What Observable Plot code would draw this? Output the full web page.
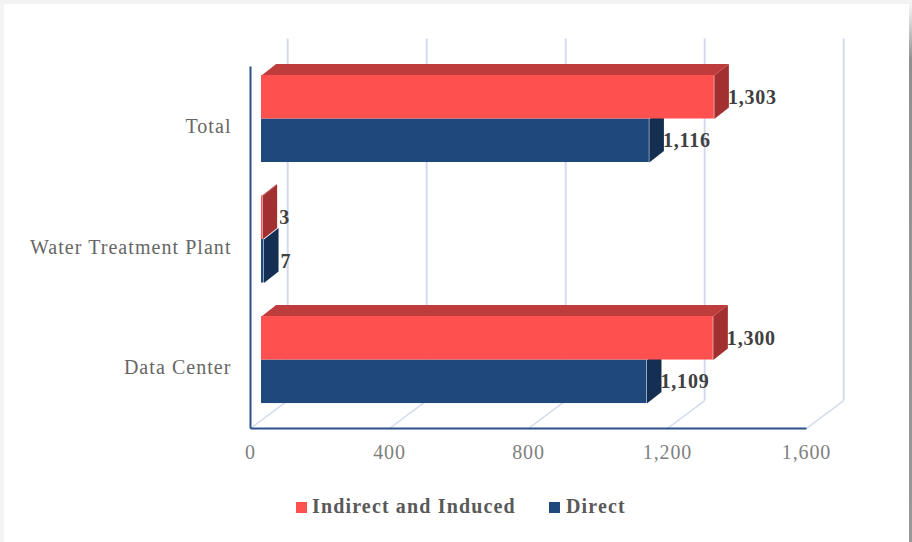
<!DOCTYPE html>
<html>
<head>
<meta charset="utf-8">
<script src="https://cdn.jsdelivr.net/npm/d3@7"></script>
<script src="https://cdn.jsdelivr.net/npm/@observablehq/plot@0.6"></script>
<style>
  html, body { margin: 0; padding: 0; background: #fff; }
  #frame { position: relative; width: 912px; height: 542px; overflow: hidden; background: #fff; }
  #edge { position: absolute; left: 0; top: 0; right: 0; bottom: 0; box-sizing: border-box;
          border-top: 4px solid #f2f2f2; border-left: 4px solid #f4f4f4; pointer-events: none; }
  #edge-right { position: absolute; left: 909px; top: 4px; width: 3px; height: 538px;
          background: linear-gradient(to bottom, #f2f2f2 0, #e8e8e8 8px, #909090 56px, #999 100%); }
  #chart { position: absolute; left: 0; top: 0; }
  #chart g[aria-label="y-axis tick label"] text { letter-spacing: 1.05px; }
  #chart g[aria-label="x-axis tick label"] text { letter-spacing: 0.9px; }
  #chart g[aria-label="text"] text { letter-spacing: 0.8px; }
  .legend-item { position: absolute; top: 494px; font: bold 20px "Liberation Serif", serif;
                 letter-spacing: 1.15px; color: #595959; line-height: 24px; white-space: nowrap; }
  .legend-item i { position: absolute; top: 8px; width: 11px; height: 11px; display: block; }
  .legend-item span { display: block; }
</style>
</head>
<body>
<div id="frame">
  <div id="edge"></div>
  <div id="edge-right"></div>
  <div id="chart"></div>
  <div id="legend"></div>
</div>
<script>
// Data (rows run bottom to top)
const categories = ["Data Center", "Water Treatment Plant", "Total"];
const indirect = [1300, 3, 1303];
const direct = [1109, 7, 1116];
const xTicks = [0, 400, 800, 1200, 1600];

// Colours
const redFront = "#ff5050", redTop = "#bf3c3c", redSide = "#a33030";
const blueFront = "#1f497d", blueSide = "#152f52";
const gridColor = "#d3daee", axisColor = "#2a5289";

// 3-D projection, expressed in scale units
const wallX = 107, wallY = 0.232;       // depth of the chart box
const barInsetX = 31.7;                 // where the bars' front plane starts
const barDepthX = 42, barDepthY = 0.0954;
const barHeight = 0.361;
const yFloor = -0.568, yTop = 2.668;
const comma = d3.format(",");

const series = (values, sign) => values.map((v, i) => ({
  category: categories[i], value: v, i,
  x1: barInsetX, x2: barInsetX + v,
  y1: sign > 0 ? i : i - barHeight,
  y2: sign > 0 ? i + barHeight : i
}));
const red = series(indirect, 1);
const blue = series(direct, -1);

const topFace = rows => rows.flatMap(r => [
  {id: r.i, x: r.x1, y: r.y2},
  {id: r.i, x: r.x1 + barDepthX, y: r.y2 + barDepthY},
  {id: r.i, x: r.x2 + barDepthX, y: r.y2 + barDepthY},
  {id: r.i, x: r.x2, y: r.y2}
]);
const sideFace = rows => rows.flatMap(r => [
  {id: r.i, x: r.x2, y: r.y1},
  {id: r.i, x: r.x2 + barDepthX, y: r.y1 + barDepthY},
  {id: r.i, x: r.x2 + barDepthX, y: r.y2 + barDepthY},
  {id: r.i, x: r.x2, y: r.y2}
]);
const face = (pts, fill) => Plot.line(pts, {x: "x", y: "y", z: "id", fill, stroke: "none"});
const labelMark = (rows, dx) => Plot.text(rows, {
  x: r => r.x2 + barDepthX, y: r => (r.y1 + r.y2) / 2,
  text: r => comma(r.value),
  textAnchor: "start", fontWeight: "bold", fill: "#404040", fontSize: 20, dx
});
const isSmall = r => r.value < 100;

const plot = Plot.plot({
  width: 912, height: 470,
  marginLeft: 250, marginRight: 106, marginTop: 38, marginBottom: 42,
  style: {background: "transparent", fontFamily: "'Liberation Serif', serif", fontSize: "20px", overflow: "visible"},
  x: {domain: [0, 1600]},
  y: {domain: [yFloor, yTop]},
  marks: [
    // Back wall and floor grid
    Plot.link(xTicks, {x1: d => d + wallX, x2: d => d + wallX, y1: yFloor + wallY, y2: yTop, stroke: gridColor, strokeWidth: 2}),
    Plot.link(xTicks, {x1: d => d, x2: d => d + wallX, y1: yFloor, y2: yFloor + wallY, stroke: gridColor, strokeWidth: 1.5}),
    // Axis lines
    Plot.link([0], {x1: 0, x2: 0, y1: yFloor, y2: yTop - wallY, stroke: axisColor, strokeWidth: 2}),
    Plot.link([0], {x1: 0, x2: 1600, y1: yFloor, y2: yFloor, stroke: axisColor, strokeWidth: 1.8}),
    // Bars
    face(topFace(red), redTop),
    face(sideFace(blue), blueSide),
    face(sideFace(red), redSide),
    Plot.rect(blue, {x1: "x1", x2: "x2", y1: "y1", y2: "y2", fill: blueFront}),
    Plot.rect(red, {x1: "x1", x2: "x2", y1: "y1", y2: "y2", fill: redFront}),
    labelMark(red.filter(r => !isSmall(r)), -1),
    labelMark(blue.filter(r => !isSmall(r)), -1),
    labelMark(red.filter(isSmall), 2),
    labelMark(blue.filter(isSmall), 2),
    // Axes
    Plot.axisX({ticks: xTicks, tickSize: 0, tickPadding: 16, tickFormat: comma, label: null, fill: "#7f7f7f", fontSize: 20}),
    Plot.axisY({ticks: [0, 1, 2], tickSize: 0, tickPadding: 19, dy: 8, tickFormat: i => categories[i], label: null, fill: "#666666", fontSize: 20})
  ]
});
document.getElementById("chart").appendChild(plot);

// Legend
const legendEntries = [
  {label: "Indirect and Induced", color: redFront, left: 312, swatch: -16},
  {label: "Direct", color: blueFront, left: 566, swatch: -17}
];
const legend = document.getElementById("legend");
for (const e of legendEntries) {
  const item = document.createElement("div");
  item.className = "legend-item";
  item.style.left = e.left + "px";
  const sw = document.createElement("i");
  sw.style.background = e.color;
  sw.style.left = e.swatch + "px";
  const tx = document.createElement("span");
  tx.textContent = e.label;
  item.append(sw, tx);
  legend.appendChild(item);
}
</script>
</body>
</html>
